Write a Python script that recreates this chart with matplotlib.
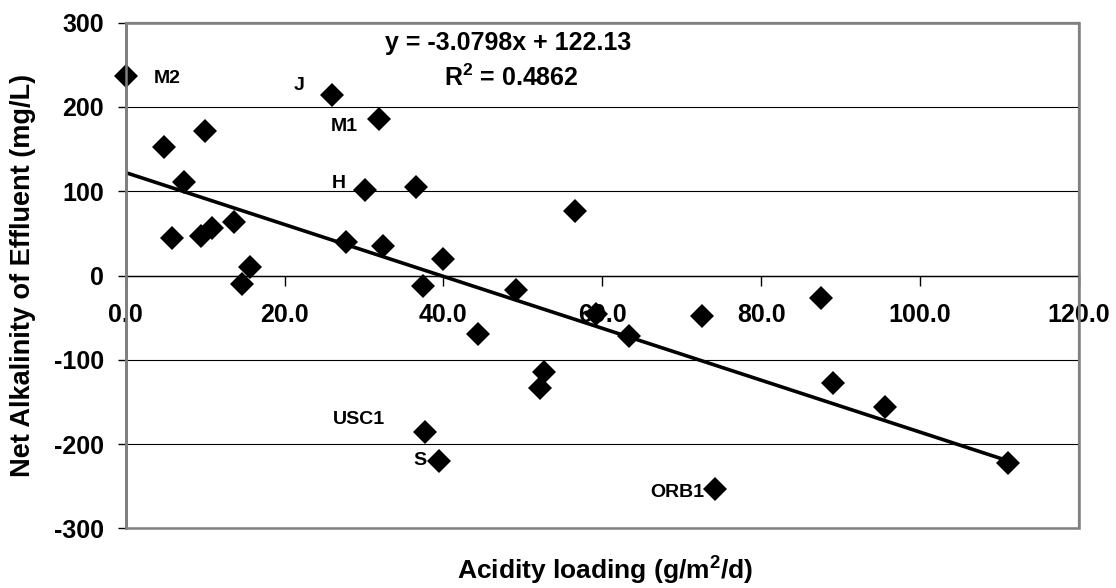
import matplotlib
matplotlib.use('Agg')
import matplotlib.pyplot as plt
from matplotlib.patches import Rectangle
import numpy as np

# acidity loading (g/m2/d) and net alkalinity of effluent (mg/L)
acidity = [0.0, 4.8, 10.0, 7.3, 5.8, 9.5, 10.9, 13.6, 15.7, 14.6,
           26.0, 31.9, 30.1, 36.5, 27.7, 32.4, 40.0, 37.4, 49.1, 56.6,
           44.3, 52.7, 52.1, 37.7, 39.4, 59.2, 63.3, 72.6, 87.5, 89.1,
           95.6, 111.1, 74.2]
net_alk = [237, 152, 171, 111, 44, 47, 56, 64, 10, -10,
           214, 186, 102, 105, 40, 35, 20, -12, -17, 76,
           -69, -115, -133, -186, -220, -46, -72, -48, -27, -127,
           -156, -222, -253]

site_names = ['M2', 'J', 'M1', 'H', 'USC1', 'S', 'ORB1']
site_index = [0, 10, 11, 12, 23, 24, 32]

slope = -3.0798
intercept = 122.13
r_squared = 0.4862

x_ticks = [0, 20, 40, 60, 80, 100, 120]
y_ticks = [-300, -200, -100, 0, 100, 200, 300]

plt.rcParams['font.family'] = ['Liberation Sans', 'DejaVu Sans']
plt.rcParams['font.weight'] = 'bold'
plt.rcParams['axes.unicode_minus'] = False
plt.rcParams['mathtext.fontset'] = 'custom'
plt.rcParams['mathtext.rm'] = 'Liberation Sans:bold'
plt.rcParams['mathtext.it'] = 'Liberation Sans:bold'
plt.rcParams['mathtext.bf'] = 'Liberation Sans:bold'

fig = plt.figure(figsize=(11.16, 5.88), dpi=100)
ax = fig.add_axes([0.1126, 0.1015, 0.8542, 0.8599])
ax.set_xlim(0, 120)
ax.set_ylim(-300, 300)

ax.set_yticks(y_ticks)
ax.set_xticks(x_ticks)
ax.set_xticklabels([f'{v:.1f}' for v in x_ticks])
ax.yaxis.grid(True, color='black', lw=0.8)
ax.set_axisbelow(True)

# frame in gray, x axis runs through y = 0
for s in ['top', 'right']:
    ax.spines[s].set_color('#808080')
    ax.spines[s].set_linewidth(1.6)
ax.spines['bottom'].set_position(('data', 0))
ax.spines['bottom'].set_color('black')
ax.spines['bottom'].set_linewidth(1.0)
ax.spines['left'].set_color('#606060')
ax.spines['left'].set_linewidth(1.8)
ax.add_patch(Rectangle((0, 0), 1, 1, transform=ax.transAxes, fill=False,
                       ec='#808080', lw=1.8, clip_on=False, zorder=5))

ax.tick_params(axis='x', direction='out', length=7, width=1, pad=13,
               labelsize=18, color='black')
ax.tick_params(axis='y', direction='out', length=5.5, width=1, pad=10,
               labelsize=18, color='black')

ax.plot(acidity, net_alk, 'D', color='black', ms=11.8, mew=0, zorder=3,
        clip_on=False)

xs = np.array([0, max(acidity)])
ax.plot(xs, slope * xs + intercept, color='black', lw=2.6, zorder=4)

ax.text(0.401, 0.9604, f'y = {slope:.4f}x + {intercept:.2f}',
        transform=ax.transAxes, ha='center', va='center', fontsize=18)
ax.text(0.405, 0.891, r'R$^{2}$' + f' = {r_squared:.4f}',
        transform=ax.transAxes, ha='center', va='center', fontsize=18)

label_offsets = [(30, -2.2), (-24, 7), (-25, -5.5), (-19, 4),
                 (-48, 9), (-13.5, 0), (-27, -2.5)]
for name, i, off in zip(site_names, site_index, label_offsets):
    ax.annotate(name, (acidity[i], net_alk[i]), xytext=off,
                textcoords='offset points', ha='center', va='center',
                fontsize=14)

fig.text(23 / 1116, 1 - 275.5 / 588, 'Net Alkalinity of Effluent (mg/L)',
         rotation=90, ha='center', va='center', fontsize=19.5)
fig.text(605 / 1116, 1 - 580 / 588, r'Acidity loading (g/m$^{2}$/d)',
         ha='center', va='baseline', fontsize=19)

fig.savefig('out.png', dpi=100)
